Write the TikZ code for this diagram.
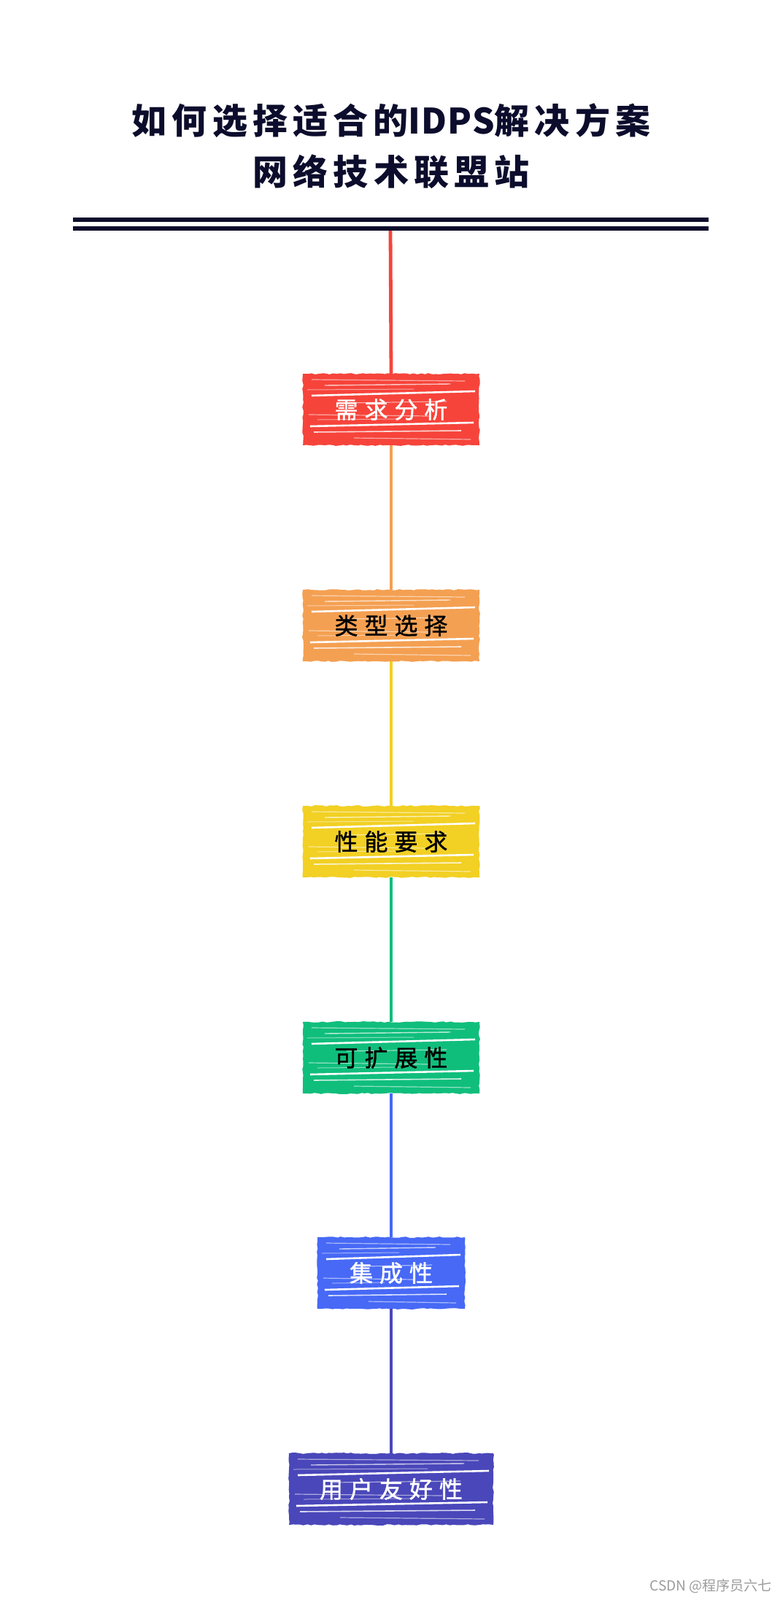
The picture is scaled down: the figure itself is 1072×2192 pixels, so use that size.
\documentclass[tikz,border=0pt]{standalone}
\usepackage{fontspec}
\newfontfamily\cjk{Noto Sans CJK SC}
\newfontfamily\cjkbox[FakeBold=1.3]{Noto Sans CJK SC}
\usetikzlibrary{calc,decorations.pathmorphing}
\definecolor{titlec}{HTML}{0C0C2C}
\definecolor{c1}{HTML}{F6443B}
\definecolor{c2}{HTML}{F4A052}
\definecolor{c3}{HTML}{F2D024}
\definecolor{c4}{HTML}{10BE7C}
\definecolor{c5}{HTML}{4769F5}
\definecolor{c6}{HTML}{4A47BA}
\definecolor{wm}{HTML}{9C9C9C}
\newcommand\boxfont{\cjkbox\fontsize{32}{36}\selectfont\addfontfeature{LetterSpace=28}}
\newcommand\hatchlines[2]{%
  \begin{scope}[shift={(#1.center)}]
    \draw[white,line width=1.2pt,opacity=.55] (-#2+12,-41) -- (#2-20,-39);
    \draw[white,line width=1.4pt,opacity=.7] (-#2+30,-33) -- (#2-40,-35);
    \draw[white,line width=1.0pt,opacity=.5] (-#2+6,-27) -- (#2-90,-28);
    \draw[white,line width=2.6pt] (-#2+12,-19) -- (#2-6,-25);
    \draw[white,line width=1.2pt,opacity=.55] (-#2+60,-9) -- (#2-45,-11);
    \draw[white,line width=1.2pt,opacity=.55] (-#2+8,7) -- (#2-70,9);
    \draw[white,line width=1.0pt,opacity=.5] (-#2+20,14) -- (#2-110,13);
    \draw[white,line width=2.6pt] (-#2+10,23) -- (#2-8,18);
    \draw[white,line width=1.6pt,opacity=.8] (-#2+15,31) -- (#2-25,29);
    \draw[white,line width=1.2pt,opacity=.55] (-#2+70,39) -- (#2-12,41);
  \end{scope}}
\tikzset{
  box/.style={minimum width={2*#1}, minimum height=98, inner sep=0pt,
    decorate, decoration={random steps,segment length=5pt,amplitude=0.9pt}},
  lbl/.style={font=\boxfont, inner sep=0pt},
  conn/.style={line width=4.8pt},
}
\begin{document}
\begin{tikzpicture}[x=1pt,y=-1pt]
\fill[white] (0,0) rectangle (1072,2192);
\useasboundingbox (0,0) rectangle (1072,2192);
% title
\node[font=\cjk\bfseries\fontsize{48}{70}\selectfont\addfontfeature{LetterSpace=15},
      text=titlec, align=center] (title) at (536,200)
  {如何选择适合的{\addfontfeature{LetterSpace=2}IDPS}解决方案\\网络技术联盟站};
\coordinate (l1a) at (100,301);
\coordinate (l1b) at (971,301);
\coordinate (l2a) at (100,313);
\coordinate (l2b) at (971,313);
\draw[titlec,line width=6.5pt] (l1a) -- (l1b);
\draw[titlec,line width=6.5pt] (l2a) -- (l2b);
\coordinate (top) at (535,316);
% boxes
\node[box=121, fill=c1] (n1) at (536,561) {};
\node[box=121, fill=c2] (n2) at (536,857) {};
\node[box=121, fill=c3] (n3) at (536,1153) {};
\node[box=121, fill=c4] (n4) at (536,1449) {};
\node[box=101, fill=c5] (n5) at (536,1744) {};
\node[box=140, fill=c6] (n6) at (536,2040) {};
\hatchlines{n1}{121}
\hatchlines{n2}{121}
\hatchlines{n3}{121}
\hatchlines{n4}{121}
\hatchlines{n5}{101}
\hatchlines{n6}{140}
\node[lbl, text=white] (t1) at (n1.center) {需求分析};
\node[lbl, text=black] (t2) at (n2.center) {类型选择};
\node[lbl, text=black] (t3) at (n3.center) {性能要求};
\node[lbl, text=black] (t4) at (n4.center) {可扩展性};
\node[lbl, text=white] (t5) at (n5.center) {集成性};
\node[lbl, text=white] (t6) at (n6.center) {用户友好性};
% connectors
\draw[conn,c1] (top) -- (n1.north);
\draw[conn,c2] (n1.south) -- (n2.north);
\draw[conn,c3] (n2.south) -- (n3.north);
\draw[conn,c4] (n3.south) -- (n4.north);
\draw[conn,c5] (n4.south) -- (n5.north);
\draw[conn,c6] (n5.south) -- (n6.north);
% watermark
\node[font=\cjk\fontsize{19}{22}\selectfont, text=wm, anchor=east, inner sep=0pt] (wmk) at (1058,2173) {CSDN @程序员六七};
\end{tikzpicture}
\end{document}
